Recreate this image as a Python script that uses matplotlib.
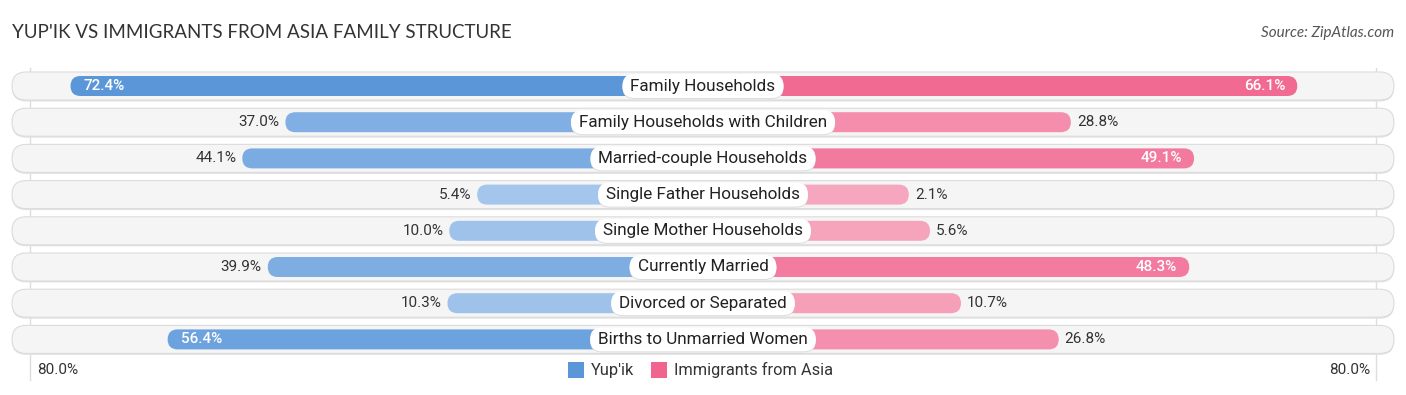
import matplotlib
matplotlib.use("Agg")
import matplotlib.pyplot as plt
from matplotlib.patches import FancyBboxPatch, Rectangle
import numpy as np

# ---- data ----
categories = ["Family Households", "Family Households with Children", "Married-couple Households",
              "Single Father Households", "Single Mother Households", "Currently Married",
              "Divorced or Separated", "Births to Unmarried Women"]
yupik = [72.4, 37.0, 44.1, 5.4, 10.0, 39.9, 10.3, 56.4]
asia = [66.1, 28.8, 49.1, 2.1, 5.6, 48.3, 10.7, 26.8]
series_names = ["Yup'ik", "Immigrants from Asia"]
axis_label = "80.0%"
title = "YUP'IK VS IMMIGRANTS FROM ASIA FAMILY STRUCTURE"
source = "Source: ZipAtlas.com"

# ---- layout ----
W, H = 1406, 395
DPI = 100
PX_PER_UNIT = 6.07          # pixels per percent
CX = 703                    # center pixel
ROW0 = 86                   # pixel y of first row
ROW_STEP = 36.2
OFFSET = 31.8               # bar start offset (percent units) hidden under label

fig = plt.figure(figsize=(W / DPI, H / DPI), dpi=DPI)
ax = fig.add_axes([0, 0, 1, 1])
ax.set_xlim(-CX / PX_PER_UNIT, (W - CX) / PX_PER_UNIT)
ax.set_ylim((H - ROW0) / ROW_STEP, -ROW0 / ROW_STEP)
ax.axis("off")

ux = PX_PER_UNIT
uy = ROW_STEP
aspect = ux / uy

def px_w(p):
    return p / ux

def px_h(p):
    return p / uy

def rbox(x0, y0, w, h, radius_px, **kw):
    r = px_w(radius_px)
    p = FancyBboxPatch((x0, y0), w, h,
                       boxstyle=f"round,pad=0,rounding_size={r}",
                       mutation_aspect=aspect, **kw)
    ax.add_patch(p)
    return p

blue_dark = np.array([0x5b, 0x97, 0xd8]) / 255
blue_light = np.array([0xaa, 0xc9, 0xee]) / 255
pink_dark = np.array([0xf0, 0x64, 0x8e]) / 255
pink_light = np.array([0xf6, 0xa9, 0xc0]) / 255

def mix(light, dark, v, vmax=72.4):
    t = min(max(v / vmax, 0), 1)
    return tuple(light + (dark - light) * t)

font = "Roboto"
xmin_bg = px_w(12 - CX)
xmax_bg = px_w(1394 - CX)
bg_h = px_h(28)
bar_h = px_h(20)
VAL_FS = 11

# faint vertical axis lines
for xl in (px_w(30 - CX), px_w(1376 - CX)):
    ax.plot([xl, xl], [px_h(68 - ROW0), px_h(380 - ROW0)], color="#dddddd", lw=1, zorder=0.5)

label_texts = []
for i, (cat, lv, rv) in enumerate(zip(categories, yupik, asia)):
    y = i
    # shadow + background
    rbox(xmin_bg, y - bg_h / 2 + px_h(1.5), xmax_bg - xmin_bg, bg_h, 14,
         facecolor="#e2e2e2", edgecolor="none", zorder=0.8)
    rbox(xmin_bg, y - bg_h / 2, xmax_bg - xmin_bg, bg_h, 14,
         facecolor="#f5f5f5", edgecolor="#dcdcdc", lw=0.8, zorder=1)
    # left bar
    lw_ = OFFSET + lv
    rbox(-lw_, y - bar_h / 2, lw_, bar_h, 10,
         facecolor=mix(blue_light, blue_dark, lv), edgecolor="none", zorder=2)
    # right bar
    rw_ = OFFSET + rv
    rbox(0, y - bar_h / 2, rw_, bar_h, 10,
         facecolor=mix(pink_light, pink_dark, rv), edgecolor="none", zorder=2)
    # value labels
    if lv > 45:
        ax.text(-lw_ + px_w(13), y, f"{lv:.1f}%", ha="left", va="center", color="white",
                fontsize=VAL_FS, fontfamily=font, fontweight="medium", zorder=4)
    else:
        ax.text(-lw_ - px_w(6), y, f"{lv:.1f}%", ha="right", va="center", color="#333333",
                fontsize=VAL_FS, fontfamily=font, zorder=4)
    if rv > 45:
        ax.text(rw_ - px_w(12), y, f"{rv:.1f}%", ha="right", va="center", color="white",
                fontsize=VAL_FS, fontfamily=font, fontweight="medium", zorder=4)
    else:
        ax.text(rw_ + px_w(6), y, f"{rv:.1f}%", ha="left", va="center", color="#333333",
                fontsize=VAL_FS, fontfamily=font, zorder=4)
    # category label
    t = ax.text(0, y, cat, ha="center", va="center", color="#222222", fontsize=12.3,
                fontfamily=font, zorder=5)
    label_texts.append((y, t))

# label boxes sized from rendered text
fig.canvas.draw()
renderer = fig.canvas.get_renderer()
for y, t in label_texts:
    bb = t.get_window_extent(renderer)
    wpx = bb.width + 16
    hpx = 24
    rbox(-px_w(wpx / 2), y - px_h(hpx / 2) + px_h(1), px_w(wpx), px_h(hpx), 12,
         facecolor="#dcdcdc", edgecolor="none", zorder=4.4)
    rbox(-px_w(wpx / 2), y - px_h(hpx / 2), px_w(wpx), px_h(hpx), 12,
         facecolor="white", edgecolor="none", zorder=4.5)

# bottom axis labels
ybot = px_h(370 - ROW0)
ax.text(px_w(37 - CX), ybot, axis_label, ha="left", va="center", color="#333333",
        fontsize=VAL_FS, fontfamily=font)
ax.text(px_w(1370 - CX), ybot, axis_label, ha="right", va="center", color="#333333",
        fontsize=VAL_FS, fontfamily=font)

# legend
sq = 16
leg_items = [(568, series_names[0], tuple(blue_dark)), (651, series_names[1], tuple(pink_dark))]
for xp, name, col in leg_items:
    ax.add_patch(Rectangle((px_w(xp - CX), ybot - px_h(sq / 2)), px_w(sq), px_h(sq),
                           facecolor=col, edgecolor="none"))
    ax.text(px_w(xp + sq + 7 - CX), ybot, name, ha="left", va="center", color="#333333",
            fontsize=11.8, fontfamily=font)

# title and source
fig.text(12 / W, 1 - 33 / H, title, ha="left", va="center", fontsize=13.5,
         color="#333333", fontfamily="Lato")
fig.text(1394 / W, 1 - 33 / H, source, ha="right", va="center", fontsize=11,
         color="#555555", fontfamily="Lato", style="italic")

fig.savefig("out.png", dpi=DPI)
